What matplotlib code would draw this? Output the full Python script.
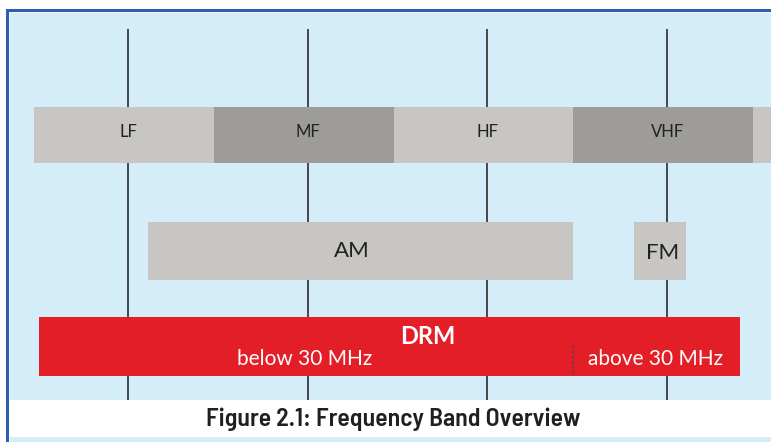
import matplotlib
matplotlib.use('Agg')
import matplotlib.pyplot as plt
from matplotlib.patches import Rectangle

# frequency bands (Hz)
band_edges = [30e3, 300e3, 3e6, 30e6, 300e6, 3e9]
band_names = ['LF', 'MF', 'HF', 'VHF', '']
band_label_at = [1e5, 1e6, 1e7, 1e8]
decade_lines = [1e5, 1e6, 1e7, 1e8]

am_range = (130e3, 30e6)
fm_range = (65e6, 127e6)
drm_range = (32e3, 255e6)
drm_split = 30e6

W, H = 771, 442
bg = '#d5ecf9'
light = '#c8c6c3'
dark = '#9e9c98'
red = '#e31e27'
blue = '#2f5db4'

fig = plt.figure(figsize=(W / 100, H / 100), dpi=100)
fig.patch.set_facecolor('white')
ax = fig.add_axes([0, 0, 1, 1])
ax.set_xscale('log')
# 30 kHz sits at pixel 34, one decade is ~180 px
dec_px = 179.75
ax.set_xlim(30e3 * 10 ** (-34 / dec_px), 30e3 * 10 ** ((W - 34) / dec_px))
ax.set_ylim(H, 0)
ax.axis('off')

T = ax.transAxes


def px_rect(x0, y0, x1, y1, color, z):
    ax.add_patch(Rectangle((x0 / W, 1 - y1 / H), (x1 - x0) / W, (y1 - y0) / H,
                           transform=T, facecolor=color, edgecolor='none', zorder=z))


def px_to_f(px):
    return 30e3 * 10 ** ((px - 34) / dec_px)


# frame
px_rect(6, 9.5, W + 10, H + 10, blue, 0)
px_rect(9, 12.5, W + 10, H + 10, '#f0f8fd', 0.1)
px_rect(10, 13.5, W + 10, H + 10, bg, 0.2)
px_rect(9, 400, W + 10, 437, 'white', 3)

# decade lines
for f in decade_lines:
    ax.plot([f, f], [29, 400], color='#2b2b2b', lw=1.2, zorder=1, solid_capstyle='butt')

# band row
for i, name in enumerate(band_names):
    c = light if i % 2 == 0 else dark
    ax.fill_between([band_edges[i], band_edges[i + 1]], 107, 163, color=c, lw=0, zorder=2)
for f, name in zip(band_label_at, band_names):
    ax.text(f, 132, name, ha='center', va='center', fontsize=12, family='Lato',
            color='#222222', zorder=4)

# AM / FM
ax.fill_between(am_range, 222, 280, color=light, lw=0, zorder=2)
ax.fill_between(fm_range, 222, 280, color=light, lw=0, zorder=2)
ax.text(px_to_f(352), 251, 'AM', ha='center', va='center',
        fontsize=16, family='Lato', color='#222222', zorder=4)
ax.text(px_to_f(663), 253, 'FM', ha='center', va='center',
        fontsize=16, family='Lato', color='#222222', zorder=4)

# DRM
ax.fill_between(drm_range, 317, 376, color=red, lw=0, zorder=2)
ax.plot([drm_split, drm_split], [346, 376], color='#7a3550', lw=1.5, ls=(0, (1.2, 1.2)), zorder=3)
ax.text(px_to_f(428), 336, 'DRM', ha='center', va='center',
        fontsize=17, fontweight='bold', family='Lato', color='white', zorder=4)
ax.text(px_to_f(305), 359, 'below 30 MHz', ha='center', va='center',
        fontsize=15, family='Lato', color='white', zorder=4)
ax.text(px_to_f(656), 359, 'above 30 MHz', ha='center', va='center',
        fontsize=15, family='Lato', color='white', zorder=4)

# caption
ax.text(393 / W, 1 - 419 / H, 'Figure 2.1: Frequency Band Overview', transform=T,
        ha='center', va='center', fontsize=18.5, fontweight=600,
        family=['Barlow Semi Condensed', 'DejaVu Sans'], color='#231f20', zorder=4)

fig.savefig('out.png', dpi=100)
